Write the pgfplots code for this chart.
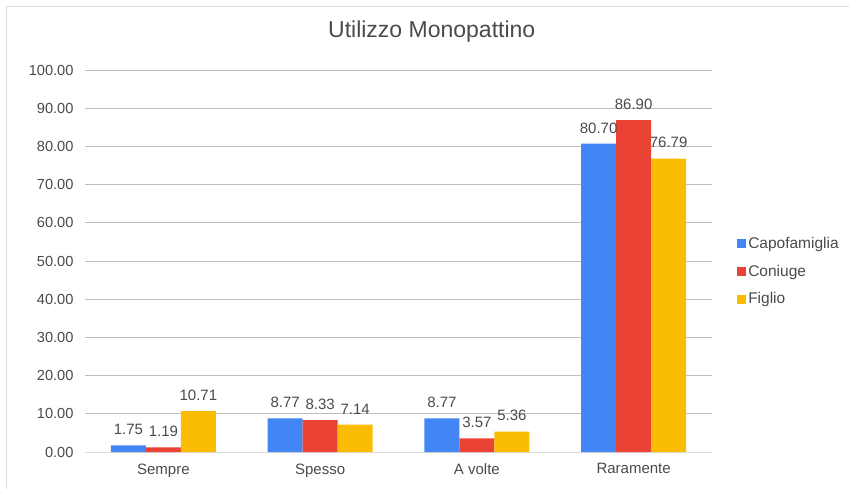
\documentclass[border=0pt]{standalone}
\usepackage{pgfplots}
\pgfplotsset{compat=1.18}
\usepackage{fontspec}
\setmainfont{Liberation Sans}
\definecolor{cBlue}{HTML}{4285F4}
\definecolor{cRed}{HTML}{EA4335}
\definecolor{cYel}{HTML}{FBBC04}
\definecolor{txt}{HTML}{4A4A4A}
\definecolor{grid}{HTML}{DADADA}
\begin{document}
\begin{tikzpicture}[x=1pt,y=1pt]
\useasboundingbox (-85,-36) rectangle (764,452);
\draw[grid, line width=1pt] (-78,-40) -- (-78,445) -- (770,445);
\begin{axis}[
  at={(0,0)}, anchor=south west,
  scale only axis, width=627pt, height=382pt,
  ybar=0pt, bar width=35pt,
  xmin=-0.5, xmax=3.5, ymin=0, ymax=100,
  xtick={0,1,2,3}, xticklabels={Sempre,Spesso,A volte,Raramente},
  ytick={0,10,...,100},
  yticklabel={\pgfmathprintnumber[fixed,fixed zerofill,precision=2]{\tick}},
  /pgf/number format/assume math mode=true,
  ymajorgrids=true, xmajorgrids=false,
  major grid style={grid, line width=0.8pt},
  axis lines=left,
  x axis line style={grid, line width=0.8pt, -},
  y axis line style={draw=none},
  major tick length=0pt,
  tick style={draw=none},
  ticklabel style={font=\fontsize{14.6}{16}\selectfont, text=txt},
  yticklabel style={xshift=-8pt},
  xticklabel style={yshift=-8pt, font=\fontsize{15}{17}\selectfont},
  nodes near coords={\pgfmathprintnumber[fixed,fixed zerofill,precision=2]{\pgfplotspointmeta}},
  every node near coord/.append style={font=\fontsize{15}{17}\selectfont, text=txt, yshift=7pt},
  title={Utilizzo Monopattino},
  title style={at={(rel axis cs:0.553,1.086)}, anchor=center, font=\fontsize{23}{27}\selectfont, text=txt},
  legend style={at={(rel axis cs:1.04,0.568)}, anchor=north west, draw=none, fill=none,
    font=\fontsize{15.5}{17}\selectfont, text=txt, row sep=11pt, inner sep=0pt},
  legend cell align=left,
  legend image code/.code={\fill[#1] (0pt,-4.5pt) rectangle (9pt,4.5pt);},
]
\addplot[fill=cBlue, draw=none] coordinates {(0,1.75) (1,8.77) (2,8.77) (3,80.70)};
\addplot[fill=cRed, draw=none] coordinates {(0,1.19) (1,8.33) (2,3.57) (3,86.90)};
\addplot[fill=cYel, draw=none] coordinates {(0,10.71) (1,7.14) (2,5.36) (3,76.79)};
\legend{Capofamiglia,Coniuge,Figlio}
\end{axis}
\end{tikzpicture}
\end{document}
